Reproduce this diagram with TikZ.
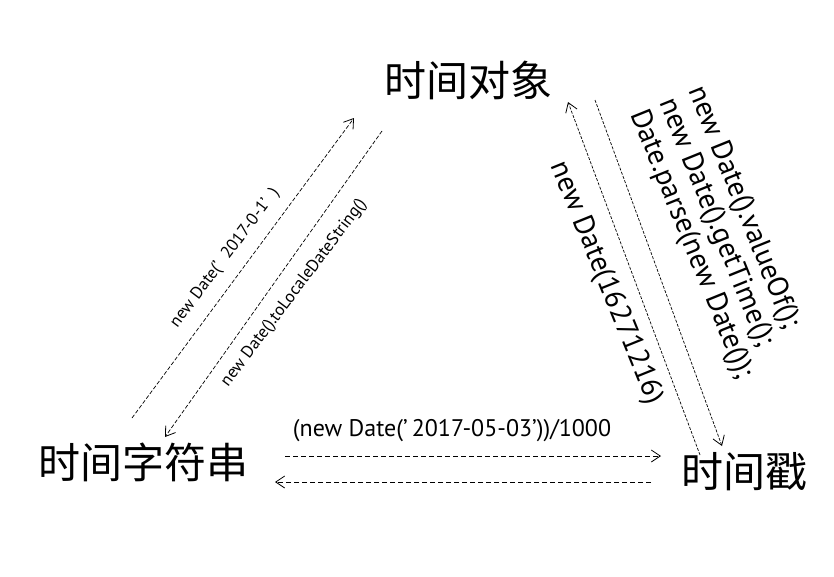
\documentclass[tikz,border=0pt]{standalone}
\usepackage{fontspec}
\setmainfont{PT Sans}
\newfontfamily\cjk{Noto Sans CJK SC}
\usetikzlibrary{arrows.meta}

\begin{document}
\begin{tikzpicture}[x=1pt,y=-1pt,>={Straight Barb[length=9pt,width=12pt,line width=0.8pt]},
 lbl/.style={font=\cjk\fontsize{42}{44}\selectfont,inner sep=0pt},
 dl/.style={->,dash pattern=on 4pt off 2pt,line width=0.7pt},
 sm/.style={font=\fontsize{17}{19}\selectfont,inner sep=0pt,rotate=53},
 md/.style={font=\fontsize{24}{26}\selectfont,inner sep=0pt},
 lg/.style={font=\fontsize{29}{32}\selectfont,inner sep=0pt,rotate=-68}]
\useasboundingbox (0,0) rectangle (834,576);
% the three forms
\node[lbl] (obj) at (468,80) {时间对象};
\node[lbl] (str) at (143,462) {时间字符串};
\node[lbl] (ts) at (744,472) {时间戳};
% arrow ends
\coordinate (strA) at (132,418); \coordinate (objA) at (354,118);
\coordinate (objB) at (382,131); \coordinate (strB) at (165,437);
\coordinate (tsC) at (700,455);  \coordinate (objC) at (568,102);
\coordinate (objD) at (595,100); \coordinate (tsD) at (722,446);
\coordinate (strE) at (285,456); \coordinate (tsE) at (661,456);
\coordinate (tsF) at (651,482);  \coordinate (strF) at (275,482);
\draw[dl] (strA) -- (objA);
\draw[dl] (objB) -- (strB);
\draw[dl,dash pattern=on 3pt off 1.5pt] (tsC) -- (objC);
\draw[dl,dash pattern=on 3pt off 1.5pt] (objD) -- (tsD);
\draw[dl,dash pattern=on 5pt off 3pt] (strE) -- (tsE);
\draw[dl,dash pattern=on 5pt off 3pt] (tsF) -- (strF);
% labels
\node[sm] (l1) at (225,258) {new Date(’\ \ 2017-0-1’\ \ )};
\node[sm] (l2) at (294,293) {new Date().toLocaleDateString()};
\node[md] (l3) at (452,431) {(new Date(’\,2017-05-03’))/1000};
\node[lg] (l4) at (606,283) {new Date(16271216)};
\node[lg,align=left,font=\fontsize{29}{31}\selectfont] (l5) at (720,233)
 {new Date().valueOf();\\new Date().getTime();\\Date.parse(new Date());};
\end{tikzpicture}
\end{document}
